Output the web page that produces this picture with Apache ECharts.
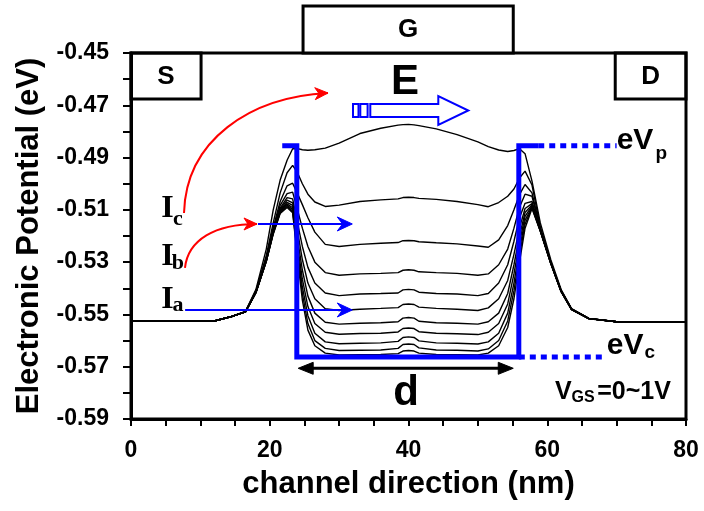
<!DOCTYPE html>
<html>
<head>
<meta charset="utf-8">
<script src="https://cdn.jsdelivr.net/npm/echarts@6/dist/echarts.min.js"></script>
<style>
html,body{margin:0;padding:0;background:#fff;}
#main{width:704px;height:511px;}
</style>
</head>
<body>
<div id="main"></div>
<script>
// ---------------- data ----------------
const X = [0, 12, 14.5, 16.5, 18, 19.5, 20.5, 21.5, 22.5, 23.3, 24, 24.7, 25.5, 26.5, 28, 30, 33, 36, 38.5, 39.2, 40, 40.8, 41.5, 44, 47, 50, 51.5, 53, 54.3, 55.2, 56, 56.8, 57.8, 59, 60.5, 62, 63.5, 66, 70, 80];

const C1 = [-0.5525,-0.5525,-0.5508,-0.5488,-0.5405,-0.5250,-0.5100,-0.4986,-0.4910,-0.4866,-0.4866,-0.4870,-0.4872,-0.4870,-0.4864,-0.4845,-0.4808,-0.4788,-0.4776,-0.4774,-0.4773,-0.4775,-0.4778,-0.4790,-0.4812,-0.4840,-0.4858,-0.4871,-0.4877,-0.4873,-0.4866,-0.4885,-0.4990,-0.5150,-0.5290,-0.5405,-0.5478,-0.5515,-0.5528,-0.5528];
const C2 = [-0.5525,-0.5525,-0.5508,-0.5489,-0.5410,-0.5275,-0.5150,-0.5035,-0.4958,-0.4930,-0.4958,-0.5000,-0.5040,-0.5070,-0.5087,-0.5082,-0.5068,-0.5062,-0.5058,-0.5053,-0.5052,-0.5053,-0.5056,-0.5060,-0.5068,-0.5080,-0.5088,-0.5072,-0.5048,-0.5020,-0.4978,-0.4952,-0.5005,-0.5165,-0.5298,-0.5408,-0.5479,-0.5515,-0.5528,-0.5528];
const C3 = [-0.5525,-0.5525,-0.5508,-0.5489,-0.5412,-0.5283,-0.5168,-0.5068,-0.5008,-0.4998,-0.5038,-0.5080,-0.5130,-0.5185,-0.5232,-0.5240,-0.5232,-0.5228,-0.5225,-0.5218,-0.5217,-0.5218,-0.5222,-0.5226,-0.5230,-0.5238,-0.5243,-0.5215,-0.5160,-0.5100,-0.5042,-0.5003,-0.5035,-0.5172,-0.5300,-0.5409,-0.5480,-0.5515,-0.5528,-0.5528];
const C4 = [-0.5525,-0.5525,-0.5508,-0.5490,-0.5413,-0.5287,-0.5174,-0.5083,-0.5038,-0.5032,-0.5100,-0.5170,-0.5240,-0.5300,-0.5340,-0.5350,-0.5345,-0.5343,-0.5340,-0.5331,-0.5329,-0.5331,-0.5337,-0.5340,-0.5343,-0.5350,-0.5345,-0.5310,-0.5250,-0.5170,-0.5090,-0.5040,-0.5048,-0.5174,-0.5300,-0.5410,-0.5480,-0.5516,-0.5528,-0.5528];
const C5 = [-0.5525,-0.5525,-0.5508,-0.5490,-0.5414,-0.5290,-0.5179,-0.5093,-0.5053,-0.5058,-0.5150,-0.5240,-0.5320,-0.5380,-0.5418,-0.5428,-0.5422,-0.5420,-0.5418,-0.5406,-0.5404,-0.5406,-0.5415,-0.5420,-0.5422,-0.5428,-0.5420,-0.5380,-0.5310,-0.5220,-0.5130,-0.5075,-0.5068,-0.5176,-0.5301,-0.5410,-0.5480,-0.5516,-0.5528,-0.5528];
const C6 = [-0.5525,-0.5525,-0.5508,-0.5490,-0.5415,-0.5292,-0.5182,-0.5098,-0.5063,-0.5073,-0.5180,-0.5290,-0.5380,-0.5440,-0.5478,-0.5485,-0.5480,-0.5477,-0.5474,-0.5462,-0.5460,-0.5462,-0.5472,-0.5477,-0.5480,-0.5485,-0.5475,-0.5440,-0.5370,-0.5270,-0.5170,-0.5095,-0.5076,-0.5177,-0.5302,-0.5411,-0.5480,-0.5516,-0.5528,-0.5528];
const C7 = [-0.5525,-0.5525,-0.5508,-0.5490,-0.5416,-0.5294,-0.5185,-0.5102,-0.5071,-0.5083,-0.5210,-0.5330,-0.5430,-0.5495,-0.5530,-0.5537,-0.5534,-0.5532,-0.5528,-0.5514,-0.5512,-0.5514,-0.5526,-0.5532,-0.5534,-0.5537,-0.5528,-0.5495,-0.5420,-0.5310,-0.5200,-0.5110,-0.5081,-0.5178,-0.5302,-0.5411,-0.5481,-0.5516,-0.5528,-0.5528];
const C8 = [-0.5525,-0.5525,-0.5508,-0.5490,-0.5416,-0.5295,-0.5187,-0.5105,-0.5077,-0.5092,-0.5235,-0.5365,-0.5470,-0.5535,-0.5568,-0.5576,-0.5573,-0.5572,-0.5567,-0.5554,-0.5552,-0.5554,-0.5566,-0.5572,-0.5574,-0.5577,-0.5568,-0.5535,-0.5460,-0.5345,-0.5225,-0.5125,-0.5085,-0.5179,-0.5303,-0.5412,-0.5481,-0.5516,-0.5528,-0.5528];
const C9 = [-0.5525,-0.5525,-0.5508,-0.5490,-0.5417,-0.5296,-0.5189,-0.5108,-0.5082,-0.5099,-0.5255,-0.5395,-0.5505,-0.5572,-0.5605,-0.5612,-0.5610,-0.5609,-0.5603,-0.5588,-0.5586,-0.5588,-0.5601,-0.5609,-0.5610,-0.5613,-0.5605,-0.5572,-0.5495,-0.5380,-0.5250,-0.5140,-0.5088,-0.5180,-0.5303,-0.5412,-0.5481,-0.5516,-0.5528,-0.5528];
const C10 = [-0.5525,-0.5525,-0.5508,-0.5490,-0.5417,-0.5297,-0.5191,-0.5111,-0.5087,-0.5105,-0.5270,-0.5420,-0.5535,-0.5600,-0.5630,-0.5638,-0.5637,-0.5636,-0.5630,-0.5615,-0.5613,-0.5615,-0.5628,-0.5636,-0.5637,-0.5640,-0.5632,-0.5600,-0.5525,-0.5410,-0.5275,-0.5155,-0.5091,-0.5181,-0.5304,-0.5413,-0.5482,-0.5516,-0.5528,-0.5528];
const C11 = [-0.5525,-0.5525,-0.5508,-0.5490,-0.5418,-0.5298,-0.5193,-0.5114,-0.5091,-0.5111,-0.5285,-0.5445,-0.5560,-0.5620,-0.5648,-0.5655,-0.5654,-0.5653,-0.5650,-0.5640,-0.5638,-0.5640,-0.5648,-0.5653,-0.5654,-0.5655,-0.5648,-0.5620,-0.5550,-0.5440,-0.5300,-0.5170,-0.5095,-0.5182,-0.5305,-0.5413,-0.5482,-0.5517,-0.5528,-0.5528];
const CURVES = [C1, C2, C3, C4, C5, C6, C7, C8, C9, C10, C11];

// blue well (eVp / eVc levels)
const WELL_X = [21.8, 23.9, 23.9, 55.9, 55.9, 58.7];
const WELL_Y = [-0.4855, -0.4855, -0.5663, -0.5663, -0.4855, -0.4855];
const VP_X = [58.7, 70.0];
const VP_Y = [-0.4855, -0.4855];
const VC_X = [55.9, 68.2];
const VC_Y = [-0.5663, -0.5663];

// tick labels
const X_LABELS = [0, 20, 40, 60, 80];
const Y_LABELS = ['-0.59', '-0.57', '-0.55', '-0.53', '-0.51', '-0.49', '-0.47', '-0.45'];

// ---------------- chart ----------------
const FONT = '"Liberation Sans", Arial, sans-serif';
const SERIF = '"Liberation Serif", "Times New Roman", serif';
const chart = echarts.init(document.getElementById('main'), null, {renderer: 'canvas'});

const zip = (xs, ys) => xs.map((x, i) => [x, ys[i]]);

const series = CURVES.map((c, i) => ({
  name: 'c' + (i + 1),
  type: 'line',
  data: zip(X, c),
  showSymbol: false,
  symbol: 'none',
  lineStyle: {color: '#000', width: 1.4},
  z: 2,
  silent: true
}));
series.push({
  type: 'line', data: zip(WELL_X, WELL_Y), showSymbol: false, symbol: 'none',
  lineStyle: {color: '#0000ff', width: 5, join: 'miter', cap: 'butt'}, z: 5, silent: true
});
series.push({
  type: 'line', data: zip(VP_X, VP_Y), showSymbol: false, symbol: 'none',
  lineStyle: {color: '#0000ff', width: 5, type: [6, 5], cap: 'butt'}, z: 5, silent: true
});
series.push({
  type: 'line', data: zip(VC_X, VC_Y), showSymbol: false, symbol: 'none',
  lineStyle: {color: '#0000ff', width: 5, type: [6, 5], cap: 'butt'}, z: 5, silent: true
});

chart.setOption({
  animation: false,
  backgroundColor: '#fff',
  grid: {left: 131, right: 18, top: 53, bottom: 92, show: true, borderColor: '#000', borderWidth: 3, backgroundColor: 'transparent'},
  xAxis: {
    type: 'value', min: 0, max: 80, interval: 5,
    name: 'channel direction (nm)', nameLocation: 'middle', nameGap: 50,
    nameTextStyle: {fontFamily: FONT, fontWeight: 'bold', fontSize: 31, color: '#000'},
    axisLine: {show: true, lineStyle: {color: '#000', width: 3}},
    axisTick: {show: true, inside: false, length: 7, lineStyle: {color: '#000', width: 2}},
    axisLabel: {
      margin: 20, fontFamily: FONT, fontWeight: 'bold', fontSize: 23, color: '#000',
      formatter: v => X_LABELS.indexOf(Math.round(v)) >= 0 ? String(Math.round(v)) : ''
    },
    splitLine: {show: false}
  },
  yAxis: {
    type: 'value', min: -0.59, max: -0.45, interval: 0.01,
    name: 'Electronic Potential (eV)', nameLocation: 'middle', nameGap: 86,
    nameTextStyle: {fontFamily: FONT, fontWeight: 'bold', fontSize: 31, color: '#000'},
    axisLine: {show: true, lineStyle: {color: '#000', width: 3}},
    axisTick: {show: true, inside: false, length: 8, lineStyle: {color: '#000', width: 2}},
    axisLabel: {
      margin: 22, fontFamily: FONT, fontWeight: 'bold', fontSize: 23, color: '#000',
      formatter: v => { const s = v.toFixed(2); return Y_LABELS.indexOf(s) >= 0 ? s : ''; }
    },
    splitLine: {show: false}
  },
  series: series
});

// ---------------- annotations (anchored in data coordinates) ----------------
function P(x, v) { return chart.convertToPixel({gridIndex: 0}, [x, v]); }
function txt(pos, text, size, opts) {
  opts = opts || {};
  return {
    type: 'text', x: pos[0], y: pos[1], z: 20,
    style: {
      text: text, fill: opts.color || '#000',
      font: (opts.weight || 'bold') + ' ' + size + 'px ' + (opts.family || FONT),
      align: opts.align || 'center', verticalAlign: opts.valign || 'middle'
    }
  };
}
function rectBox(a, b, fill) {
  return {
    type: 'rect', z: 15,
    shape: {x: Math.min(a[0], b[0]), y: Math.min(a[1], b[1]), width: Math.abs(b[0] - a[0]), height: Math.abs(b[1] - a[1])},
    style: {fill: fill || 'none', stroke: '#000', lineWidth: 3}
  };
}
function head(tip, ang, len, half, color, notch) {
  const c = Math.cos(ang), s = Math.sin(ang);
  const bx = tip[0] - c * len, by = tip[1] - s * len;
  const nx = tip[0] - c * len * (notch || 1), ny = tip[1] - s * len * (notch || 1);
  return {
    type: 'polygon', z: 21,
    shape: {points: [tip, [bx - s * half, by + c * half], [nx, ny], [bx + s * half, by - c * half]]},
    style: {fill: color, stroke: color, lineWidth: 1}
  };
}
function bez(p0, p1, p2, p3, color, w) {
  return {
    type: 'bezierCurve', z: 20,
    shape: {x1: p0[0], y1: p0[1], cpx1: p1[0], cpy1: p1[1], cpx2: p2[0], cpy2: p2[1], x2: p3[0], y2: p3[1]},
    style: {stroke: color, lineWidth: w, fill: 'none'}
  };
}
function seg(a, b, color, w) {
  return {type: 'line', z: 20, shape: {x1: a[0], y1: a[1], x2: b[0], y2: b[1]}, style: {stroke: color, lineWidth: w}};
}

const g = [];
// S, D, G boxes
g.push(rectBox(P(24.8, -0.4320), P(55.1, -0.45), '#fff'));
g.push(rectBox(P(0, -0.45), P(10.1, -0.4676)));
g.push(rectBox(P(69.8, -0.45), P(80, -0.4676)));
g.push(txt(P(5.05, -0.4590), 'S', 26));
g.push(txt(P(74.9, -0.4590), 'D', 26));
g.push(txt(P(39.95, -0.4412), 'G', 26));
g.push(txt(P(39.5, -0.4613), 'E', 42));

// hollow blue arrow (field direction)
(function () {
  const a = P(32.0, -0.4720);
  const x0 = a[0], y0 = a[1];
  const st = {fill: 'none', stroke: '#0000ff', lineWidth: 2};
  g.push({type: 'rect', z: 20, shape: {x: x0, y: y0 - 6.5, width: 5.5, height: 13}, style: st});
  g.push({type: 'rect', z: 20, shape: {x: x0 + 7.3, y: y0 - 6.5, width: 7.3, height: 13}, style: st});
  g.push({type: 'polygon', z: 20, shape: {points: [
    [x0 + 17.3, y0 - 6.5], [x0 + 85.3, y0 - 6.5], [x0 + 85.3, y0 - 14.5], [x0 + 115.3, y0],
    [x0 + 85.3, y0 + 14.5], [x0 + 85.3, y0 + 6.5], [x0 + 17.3, y0 + 6.5]]}, style: st});
})();

// red curved arrows
(function () {
  const p0 = P(7.64, -0.5112), p1 = P(7.93, -0.4833), p2 = P(17.15, -0.4668), p3 = P(28.4, -0.4653);
  g.push(bez(p0, p1, p2, p3, '#ff0000', 2));
  g.push(head(p3, Math.atan2(p3[1] - p2[1], p3[0] - p2[0]), 13, 6, '#ff0000', 0.7));
  const q0 = P(7.78, -0.5322), q1 = P(8.22, -0.5215), q2 = P(12.1, -0.5154), q3 = P(18.16, -0.5154);
  g.push(bez(q0, q1, q2, q3, '#ff0000', 2));
  g.push(head(q3, Math.atan2(q3[1] - q2[1], q3[0] - q2[0]), 13, 6, '#ff0000', 0.7));
})();

// blue straight arrows
(function () {
  const a0 = P(18.3, -0.5154), a1 = P(31.9, -0.5154);
  g.push(seg(a0, [a1[0] - 6, a1[1]], '#0000ff', 2));
  g.push(head(a1, 0, 15, 7, '#0000ff', 0.65));
  const b0 = P(7.8, -0.5483), b1 = P(31.9, -0.5483);
  g.push(seg(b0, [b1[0] - 6, b1[1]], '#0000ff', 2));
  g.push(head(b1, 0, 15, 7, '#0000ff', 0.65));
})();

// I labels
[['c', -0.5097, -0.5135], ['b', -0.5280, -0.5305], ['a', -0.5443, -0.5466]].forEach(function (r) {
  g.push(txt(P(5.26, r[1]), 'I', 32, {family: SERIF}));
  g.push(txt(P(6.77, r[2]), r[0], 22, {family: SERIF}));
});

// eVp, eVc
g.push(txt(P(70.0, -0.4837), 'eV', 30, {align: 'left'}));
g.push(txt(P(75.6, -0.4885), 'p', 19, {align: 'left'}));
g.push(txt(P(68.57, -0.5621), 'eV', 30, {align: 'left'}));
g.push(txt(P(74.0, -0.5648), 'c', 19, {align: 'left'}));

// d with double arrow
(function () {
  const l = P(24.1, -0.5706), r = P(55.1, -0.5706);
  g.push(seg([l[0] + 10, l[1]], [r[0] - 10, r[1]], '#000', 3));
  g.push(head(l, Math.PI, 15, 6, '#000', 1));
  g.push(head(r, 0, 15, 6, '#000', 1));
  g.push(txt(P(39.64, -0.5801), 'd', 42));
})();

// VGS = 0~1V
g.push(txt(P(61.12, -0.5797), 'V', 25, {align: 'left'}));
g.push(txt(P(63.5, -0.5820), 'GS', 16, {align: 'left'}));
g.push(txt(P(67.2, -0.5797), '=0~1V', 25, {align: 'left'}));

chart.setOption({graphic: g});
</script>
</body>
</html>
